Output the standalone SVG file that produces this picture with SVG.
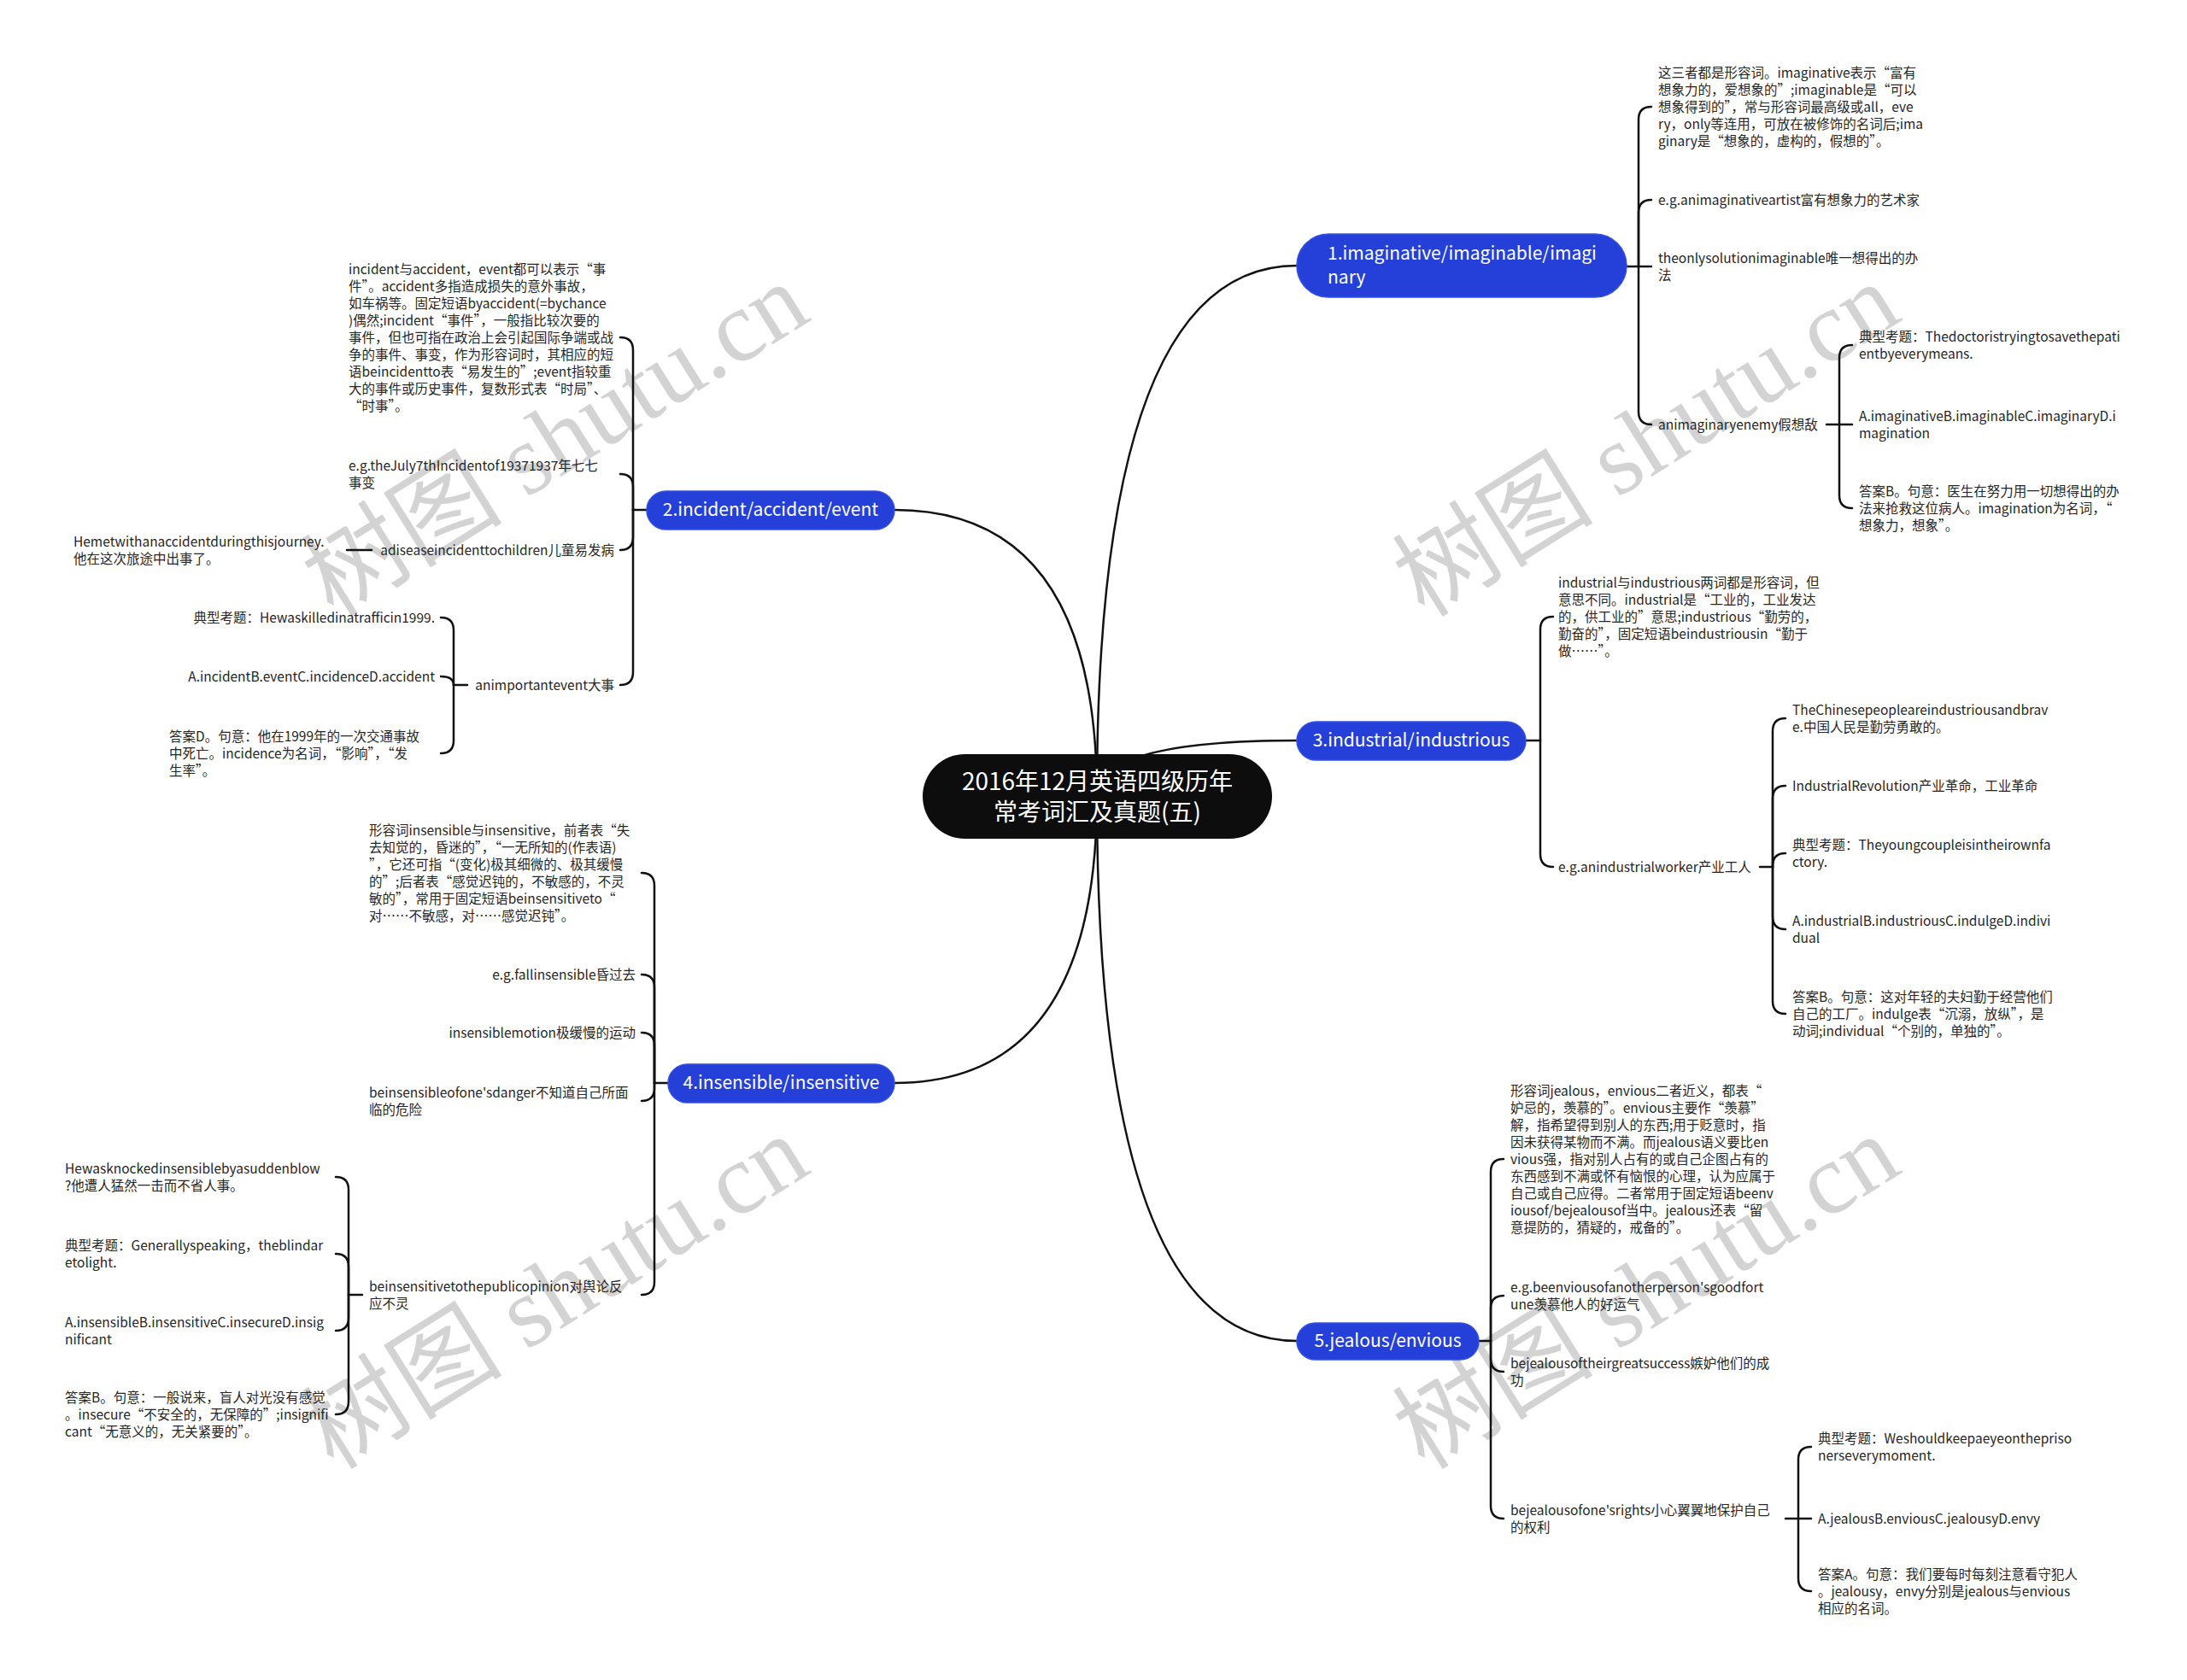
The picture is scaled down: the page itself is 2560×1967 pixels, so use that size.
<svg xmlns="http://www.w3.org/2000/svg" width="2560" height="1967" viewBox="0 0 2560 1967">
<style>
.t{font-family:"Noto Sans CJK SC","Noto Sans",sans-serif;font-size:15.5px;fill:#262626}
.e{text-anchor:end}
.b{font-family:"Noto Sans CJK SC","Noto Sans",sans-serif;font-size:21px;fill:#fff}
.m{text-anchor:middle}
.c{font-family:"Noto Sans CJK SC","Noto Sans",sans-serif;font-size:28px;fill:#fff;text-anchor:middle}
.ln{fill:none;stroke:#111;stroke-width:2.5;stroke-linecap:round}
.bn{fill:#2540d8;stroke:#3550e0;stroke-width:1.5}
.wm{font-family:"Liberation Serif","Noto Sans CJK SC",serif;font-size:118px;fill:#808080;fill-opacity:0.35;text-anchor:middle}
</style>
<rect width="2560" height="1967" fill="#fff"/>
<g id="watermarks">
<text class="wm" x="650" y="555" transform="rotate(-32 650 515)">树图 shutu.cn</text>
<text class="wm" x="1927" y="555" transform="rotate(-32 1927 515)">树图 shutu.cn</text>
<text class="wm" x="650" y="1553" transform="rotate(-32 650 1513)">树图 shutu.cn</text>
<text class="wm" x="1927" y="1553" transform="rotate(-32 1927 1513)">树图 shutu.cn</text>
</g>
<g id="connectors">
<path class="ln" d="M1284 932 Q1284 311 1518 311"/>
<path class="ln" d="M1284 932 Q1284 597 1047 597"/>
<path class="ln" d="M1284 932 Q1284 867 1518 867"/>
<path class="ln" d="M1284 932 Q1284 1268 1047 1268"/>
<path class="ln" d="M1284 932 Q1284 1570 1518 1570"/>
<path class="ln" d="M1904 312 H1918"/>
<path class="ln" d="M1918 312 V140 Q1918 125 1933 125"/>
<path class="ln" d="M1918 312 V249 Q1918 234 1933 234"/>
<path class="ln" d="M1918 312 H1933"/>
<path class="ln" d="M1918 312 V482 Q1918 497 1933 497"/>
<path class="ln" d="M2138 497 H2153"/>
<path class="ln" d="M2153 497 V419 Q2153 404 2168 404"/>
<path class="ln" d="M2153 497 H2168"/>
<path class="ln" d="M2153 497 V580 Q2153 595 2168 595"/>
<path class="ln" d="M1786 867 H1803"/>
<path class="ln" d="M1803 867 V737 Q1803 722 1818 722"/>
<path class="ln" d="M1803 867 V1000 Q1803 1015 1818 1015"/>
<path class="ln" d="M2060 1015 H2075"/>
<path class="ln" d="M2075 1015 V856 Q2075 841 2090 841"/>
<path class="ln" d="M2075 1015 V935 Q2075 920 2090 920"/>
<path class="ln" d="M2075 1015 V1014 Q2075 999 2090 999"/>
<path class="ln" d="M2075 1015 V1073 Q2075 1088 2090 1088"/>
<path class="ln" d="M2075 1015 V1172 Q2075 1187 2090 1187"/>
<path class="ln" d="M1731 1570 H1745"/>
<path class="ln" d="M1745 1570 V1372 Q1745 1357 1760 1357"/>
<path class="ln" d="M1745 1570 V1532 Q1745 1517 1760 1517"/>
<path class="ln" d="M1745 1570 V1591 Q1745 1606 1760 1606"/>
<path class="ln" d="M1745 1570 V1763 Q1745 1778 1760 1778"/>
<path class="ln" d="M2090 1778 H2105"/>
<path class="ln" d="M2105 1778 V1709 Q2105 1694 2120 1694"/>
<path class="ln" d="M2105 1778 H2120"/>
<path class="ln" d="M2105 1778 V1848 Q2105 1863 2120 1863"/>
<path class="ln" d="M757 597 H741"/>
<path class="ln" d="M741 597 V410 Q741 395 726 395"/>
<path class="ln" d="M741 597 V570 Q741 555 726 555"/>
<path class="ln" d="M741 597 V629 Q741 644 726 644"/>
<path class="ln" d="M741 597 V787 Q741 802 726 802"/>
<path class="ln" d="M435 644 H406"/>
<path class="ln" d="M547 802 H531"/>
<path class="ln" d="M531 802 V738 Q531 723 516 723"/>
<path class="ln" d="M531 802 Q531 792 516 792"/>
<path class="ln" d="M531 802 V867 Q531 882 516 882"/>
<path class="ln" d="M782 1268 H766"/>
<path class="ln" d="M766 1268 V1037 Q766 1022 751 1022"/>
<path class="ln" d="M766 1268 V1156 Q766 1141 751 1141"/>
<path class="ln" d="M766 1268 V1224 Q766 1209 751 1209"/>
<path class="ln" d="M766 1268 V1274 Q766 1289 751 1289"/>
<path class="ln" d="M766 1268 V1501 Q766 1516 751 1516"/>
<path class="ln" d="M424 1516 H408"/>
<path class="ln" d="M408 1516 V1393 Q408 1378 393 1378"/>
<path class="ln" d="M408 1516 V1483 Q408 1468 393 1468"/>
<path class="ln" d="M408 1516 V1543 Q408 1558 393 1558"/>
<path class="ln" d="M408 1516 V1641 Q408 1656 393 1656"/>
</g>
<g id="center">
<rect x="1080" y="883" width="409" height="99" rx="49.5" fill="#0d0d0d"/>
<text class="c" x="1284.5" y="925">2016年12月英语四级历年</text>
<text class="c" x="1284.5" y="961">常考词汇及真题(五)</text>
</g>
<g id="n1">
<rect class="bn" x="1518" y="274" width="386" height="74" rx="37"/>
<text class="b" x="1554" y="304">1.imaginative/imaginable/imagi</text>
<text class="b" x="1554" y="332">nary</text>
</g>
<g id="n2">
<rect class="bn" x="757" y="575" width="290" height="45" rx="22.5"/>
<text class="b m" x="902" y="604">2.incident/accident/event</text>
</g>
<g id="n3">
<rect class="bn" x="1518" y="845" width="268" height="45" rx="22.5"/>
<text class="b m" x="1652" y="874">3.industrial/industrious</text>
</g>
<g id="n4">
<rect class="bn" x="782" y="1246" width="265" height="45" rx="22.5"/>
<text class="b m" x="914.5" y="1275">4.insensible/insensitive</text>
</g>
<g id="n5">
<rect class="bn" x="1518" y="1549" width="213" height="43" rx="21.5"/>
<text class="b m" x="1624.5" y="1577">5.jealous/envious</text>
</g>
<g id="n1a"><text class="t"><tspan x="1941" y="91">这三者都是形容词。imaginative表示“富有</tspan><tspan x="1941" y="111">想象力的，爱想象的”;imaginable是“可以</tspan><tspan x="1941" y="131">想象得到的”，常与形容词最高级或all，eve</tspan><tspan x="1941" y="151">ry，only等连用，可放在被修饰的名词后;ima</tspan><tspan x="1941" y="171">ginary是“想象的，虚构的，假想的”。</tspan></text></g>
<g id="n1b"><text class="t" x="1941" y="240">e.g.animaginativeartist富有想象力的艺术家</text></g>
<g id="n1c"><text class="t"><tspan x="1941" y="308">theonlysolutionimaginable唯一想得出的办</tspan><tspan x="1941" y="328">法</tspan></text></g>
<g id="n1d"><text class="t" x="1941" y="503">animaginaryenemy假想敌</text></g>
<g id="n1d1"><text class="t"><tspan x="2176" y="400">典型考题：Thedoctoristryingtosavethepati</tspan><tspan x="2176" y="420">entbyeverymeans.</tspan></text></g>
<g id="n1d2"><text class="t"><tspan x="2176" y="493">A.imaginativeB.imaginableC.imaginaryD.i</tspan><tspan x="2176" y="513">magination</tspan></text></g>
<g id="n1d3"><text class="t"><tspan x="2176" y="581">答案B。句意：医生在努力用一切想得出的办</tspan><tspan x="2176" y="601">法来抢救这位病人。imagination为名词，“</tspan><tspan x="2176" y="621">想象力，想象”。</tspan></text></g>
<g id="n3a"><text class="t"><tspan x="1824" y="688">industrial与industrious两词都是形容词，但</tspan><tspan x="1824" y="708">意思不同。industrial是“工业的，工业发达</tspan><tspan x="1824" y="728">的，供工业的”意思;industrious“勤劳的，</tspan><tspan x="1824" y="748">勤奋的”，固定短语beindustriousin“勤于</tspan><tspan x="1824" y="768">做……”。</tspan></text></g>
<g id="n3b"><text class="t" x="1824" y="1021">e.g.anindustrialworker产业工人</text></g>
<g id="n3b1"><text class="t"><tspan x="2098" y="837">TheChinesepeopleareindustriousandbrav</tspan><tspan x="2098" y="857">e.中国人民是勤劳勇敢的。</tspan></text></g>
<g id="n3b2"><text class="t" x="2098" y="926">IndustrialRevolution产业革命，工业革命</text></g>
<g id="n3b3"><text class="t"><tspan x="2098" y="995">典型考题：Theyoungcoupleisintheirownfa</tspan><tspan x="2098" y="1015">ctory.</tspan></text></g>
<g id="n3b4"><text class="t"><tspan x="2098" y="1084">A.industrialB.industriousC.indulgeD.indivi</tspan><tspan x="2098" y="1104">dual</tspan></text></g>
<g id="n3b5"><text class="t"><tspan x="2098" y="1173">答案B。句意：这对年轻的夫妇勤于经营他们</tspan><tspan x="2098" y="1193">自己的工厂。indulge表“沉溺，放纵”，是</tspan><tspan x="2098" y="1213">动词;individual“个别的，单独的”。</tspan></text></g>
<g id="n5a"><text class="t"><tspan x="1768" y="1283">形容词jealous，envious二者近义，都表“</tspan><tspan x="1768" y="1303">妒忌的，羡慕的”。envious主要作“羡慕”</tspan><tspan x="1768" y="1323">解，指希望得到别人的东西;用于贬意时，指</tspan><tspan x="1768" y="1343">因未获得某物而不满。而jealous语义要比en</tspan><tspan x="1768" y="1363">vious强，指对别人占有的或自己企图占有的</tspan><tspan x="1768" y="1383">东西感到不满或怀有恼恨的心理，认为应属于</tspan><tspan x="1768" y="1403">自己或自己应得。二者常用于固定短语beenv</tspan><tspan x="1768" y="1423">iousof/bejealousof当中。jealous还表“留</tspan><tspan x="1768" y="1443">意提防的，猜疑的，戒备的”。</tspan></text></g>
<g id="n5b"><text class="t"><tspan x="1768" y="1513">e.g.beenviousofanotherperson'sgoodfort</tspan><tspan x="1768" y="1533">une羡慕他人的好运气</tspan></text></g>
<g id="n5c"><text class="t"><tspan x="1768" y="1602">bejealousoftheirgreatsuccess嫉妒他们的成</tspan><tspan x="1768" y="1622">功</tspan></text></g>
<g id="n5d"><text class="t"><tspan x="1768" y="1774">bejealousofone'srights小心翼翼地保护自己</tspan><tspan x="1768" y="1794">的权利</tspan></text></g>
<g id="n5d1"><text class="t"><tspan x="2128" y="1690">典型考题：Weshouldkeepaeyeonthepriso</tspan><tspan x="2128" y="1710">nerseverymoment.</tspan></text></g>
<g id="n5d2"><text class="t" x="2128" y="1784">A.jealousB.enviousC.jealousyD.envy</text></g>
<g id="n5d3"><text class="t"><tspan x="2128" y="1849">答案A。句意：我们要每时每刻注意看守犯人</tspan><tspan x="2128" y="1869">。jealousy，envy分别是jealous与envious</tspan><tspan x="2128" y="1889">相应的名词。</tspan></text></g>
<g id="n2a"><text class="t"><tspan x="408" y="321">incident与accident，event都可以表示“事</tspan><tspan x="408" y="341">件”。accident多指造成损失的意外事故，</tspan><tspan x="408" y="361">如车祸等。固定短语byaccident(=bychance</tspan><tspan x="408" y="381">)偶然;incident“事件”，一般指比较次要的</tspan><tspan x="408" y="401">事件，但也可指在政治上会引起国际争端或战</tspan><tspan x="408" y="421">争的事件、事变，作为形容词时，其相应的短</tspan><tspan x="408" y="441">语beincidentto表“易发生的”;event指较重</tspan><tspan x="408" y="461">大的事件或历史事件，复数形式表“时局”、</tspan><tspan x="408" y="481">“时事”。</tspan></text></g>
<g id="n2b"><text class="t"><tspan x="408" y="551">e.g.theJuly7thIncidentof19371937年七七</tspan><tspan x="408" y="571">事变</tspan></text></g>
<g id="n2c"><text class="t e" x="719" y="650">adiseaseincidenttochildren儿童易发病</text></g>
<g id="n2c1"><text class="t"><tspan x="86" y="640">Hemetwithanaccidentduringthisjourney.</tspan><tspan x="86" y="660">他在这次旅途中出事了。</tspan></text></g>
<g id="n2d"><text class="t e" x="719" y="808">animportantevent大事</text></g>
<g id="n2d1"><text class="t e" x="509" y="729">典型考题：Hewaskilledinatrafficin1999.</text></g>
<g id="n2d2"><text class="t e" x="509" y="798">A.incidentB.eventC.incidenceD.accident</text></g>
<g id="n2d3"><text class="t"><tspan x="198" y="868">答案D。句意：他在1999年的一次交通事故</tspan><tspan x="198" y="888">中死亡。incidence为名词，“影响”，“发</tspan><tspan x="198" y="908">生率”。</tspan></text></g>
<g id="n4a"><text class="t"><tspan x="432" y="978">形容词insensible与insensitive，前者表“失</tspan><tspan x="432" y="998">去知觉的，昏迷的”，“一无所知的(作表语)</tspan><tspan x="432" y="1018">”，它还可指“(变化)极其细微的、极其缓慢</tspan><tspan x="432" y="1038">的”;后者表“感觉迟钝的，不敏感的，不灵</tspan><tspan x="432" y="1058">敏的”，常用于固定短语beinsensitiveto“</tspan><tspan x="432" y="1078">对……不敏感，对……感觉迟钝”。</tspan></text></g>
<g id="n4b"><text class="t e" x="744" y="1147">e.g.fallinsensible昏过去</text></g>
<g id="n4c"><text class="t e" x="744" y="1215">insensiblemotion极缓慢的运动</text></g>
<g id="n4d"><text class="t"><tspan x="432" y="1285">beinsensibleofone'sdanger不知道自己所面</tspan><tspan x="432" y="1305">临的危险</tspan></text></g>
<g id="n4e"><text class="t"><tspan x="432" y="1512">beinsensitivetothepublicopinion对舆论反</tspan><tspan x="432" y="1532">应不灵</tspan></text></g>
<g id="n4e1"><text class="t"><tspan x="76" y="1374">Hewasknockedinsensiblebyasuddenblow</tspan><tspan x="76" y="1394">?他遭人猛然一击而不省人事。</tspan></text></g>
<g id="n4e2"><text class="t"><tspan x="76" y="1464">典型考题：Generallyspeaking，theblindar</tspan><tspan x="76" y="1484">etolight.</tspan></text></g>
<g id="n4e3"><text class="t"><tspan x="76" y="1554">A.insensibleB.insensitiveC.insecureD.insig</tspan><tspan x="76" y="1574">nificant</tspan></text></g>
<g id="n4e4"><text class="t"><tspan x="76" y="1642">答案B。句意：一般说来，盲人对光没有感觉</tspan><tspan x="76" y="1662">。insecure“不安全的，无保障的”;insignifi</tspan><tspan x="76" y="1682">cant“无意义的，无关紧要的”。</tspan></text></g>
</svg>
